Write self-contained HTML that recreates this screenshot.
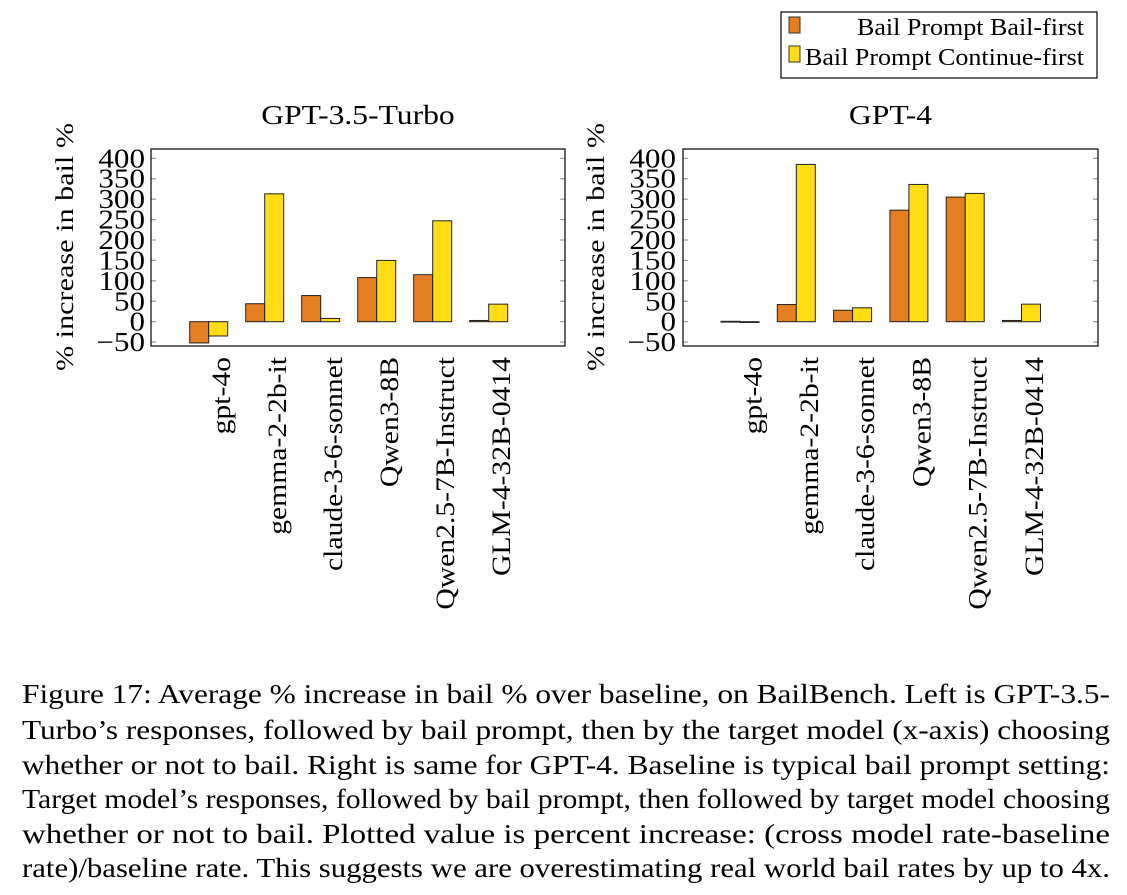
<!DOCTYPE html>
<html><head><meta charset="utf-8"><style>
html,body{margin:0;padding:0;background:#fff;}
svg{display:block;font-family:"Liberation Serif",serif;}
</style></head><body>
<svg id="fig" width="1127" height="895" viewBox="0 0 1127 895" xmlns="http://www.w3.org/2000/svg">
<g>
<rect x="781" y="12" width="316" height="66" fill="#fff" stroke="#000" stroke-width="1.2"/>
<rect x="789" y="17" width="11" height="16" fill="#e67e22" stroke="#333"/>
<text x="857" y="35" font-size="24" textLength="227" lengthAdjust="spacingAndGlyphs">Bail Prompt Bail-first</text>
<rect x="789" y="46" width="11" height="16" fill="#ffdc14" stroke="#333"/>
<text x="805" y="65" font-size="24" textLength="279" lengthAdjust="spacingAndGlyphs">Bail Prompt Continue-first</text>
</g>
<g id="charts"></g>
<g font-size="27">
<text x="22" y="703" textLength="1088" lengthAdjust="spacingAndGlyphs">Figure 17: Average % increase in bail % over baseline, on BailBench. Left is GPT-3.5-</text>
<text x="22" y="739" textLength="1088" lengthAdjust="spacingAndGlyphs">Turbo’s responses, followed by bail prompt, then by the target model (x-axis) choosing</text>
<text x="22" y="774" textLength="1088" lengthAdjust="spacingAndGlyphs">whether or not to bail. Right is same for GPT-4. Baseline is typical bail prompt setting:</text>
<text x="22" y="808" textLength="1088" lengthAdjust="spacingAndGlyphs">Target model’s responses, followed by bail prompt, then followed by target model choosing</text>
<text x="22" y="843" textLength="1088" lengthAdjust="spacingAndGlyphs">whether or not to bail.  Plotted value is percent increase: (cross model rate-baseline</text>
<text x="22" y="877" textLength="1088" lengthAdjust="spacingAndGlyphs">rate)/baseline rate. This suggests we are overestimating real world bail rates by up to 4x.</text>
</g>
</svg>
<script>
const categories = ["gpt-4o","gemma-2-2b-it","claude-3-6-sonnet","Qwen3-8B","Qwen2.5-7B-Instruct","GLM-4-32B-0414"];
const gpt35BailFirst = [-52, 44, 64, 108, 115, 3];
const gpt35ContinueFirst = [-35, 313, 8, 150, 247, 43];
const gpt4BailFirst = [1, 42, 28, 273, 305, 3];
const gpt4ContinueFirst = [-1, 385, 34, 336, 314, 43];
const yTicks = [-50, 0, 50, 100, 150, 200, 250, 300, 350, 400];
const yTickLabels = ["\u221250","0","50","100","150","200","250","300","350","400"];
const titles = ["GPT-3.5-Turbo","GPT-4"];

const NS = "http://www.w3.org/2000/svg";
const chartsRoot = document.getElementById("charts");
function mk(tag, attrs, parent){const e=document.createElementNS(NS,tag);for(const k in attrs)e.setAttribute(k,attrs[k]);parent.appendChild(e);return e;}
function widen(el, f){const w=el.getComputedTextLength();if(w>0){el.setAttribute('textLength',(w*f).toFixed(1));el.setAttribute('lengthAdjust','spacingAndGlyphs');}}

const panels = [
  {left:151, right:565, first:208.7, step:56, ylab:65, tickX:145, bail:gpt35BailFirst, cont:gpt35ContinueFirst, key:"gpt35"},
  {left:683, right:1098, first:740, step:56.3, ylab:596, tickX:676, bail:gpt4BailFirst, cont:gpt4ContinueFirst, key:"gpt4"}
];
const frameTop=149, frameBottom=346;
function yScale(v){return 321.7 - v*(163.4/400);}

panels.forEach((p,pi)=>{
  const g = mk("g",{},chartsRoot);
  
  
  const cx=(p.left+p.right)/2;
  const t = mk("text",{x:cx,y:124,"font-size":27,"text-anchor":"middle"},g);
  t.textContent = titles[pi];
  
  
  widen(t,1.17);
  const yl = mk("text",{x:0,y:0,"font-size":25,"text-anchor":"middle",textLength:248,lengthAdjust:"spacingAndGlyphs",transform:`translate(${p.ylab+8},247) rotate(-90)`},g);
  yl.textContent = "% increase in bail %";
  
  
  yTicks.forEach((v,i)=>{
    const yy=yScale(v);
    const l1=mk("line",{x1:p.left,x2:p.left+5,y1:yy,y2:yy,stroke:"#999","stroke-width":1.2},g);
    
    
    const l2=mk("line",{x1:p.right-5,x2:p.right,y1:yy,y2:yy,stroke:"#999","stroke-width":1.2},g);
    
    
    const tl=mk("text",{x:p.tickX,y:yy+9,"font-size":27,"text-anchor":"end"},g);
    tl.textContent=yTickLabels[i];
    
    
    widen(tl,1.15);
  });
  categories.forEach((c,i)=>{
    const xc=p.first+p.step*i;
    const b1=p.bail[i], b2=p.cont[i];
    const r1=mk("rect",{x:xc-19,y:Math.min(yScale(0),yScale(b1)),width:19,height:Math.max(Math.abs(yScale(b1)-yScale(0)),0.8),fill:"#e67e22",stroke:"#222","stroke-width":1},g);
    
    
    const r2=mk("rect",{x:xc,y:Math.min(yScale(0),yScale(b2)),width:19,height:Math.max(Math.abs(yScale(b2)-yScale(0)),0.8),fill:"#ffdc14",stroke:"#222","stroke-width":1},g);
    
    
    const xl=mk("text",{x:0,y:0,"font-size":26,"text-anchor":"end","dominant-baseline":"central",transform:`translate(${xc+13},357) rotate(-90)`},g);
    xl.textContent=c;
    
    
    widen(xl,1.14);
  });
  const fr=mk("rect",{x:p.left,y:frameTop,width:p.right-p.left,height:frameBottom-frameTop,fill:"none",stroke:"#000","stroke-width":1.2},g);
  
  
});
</script>
</body></html>
